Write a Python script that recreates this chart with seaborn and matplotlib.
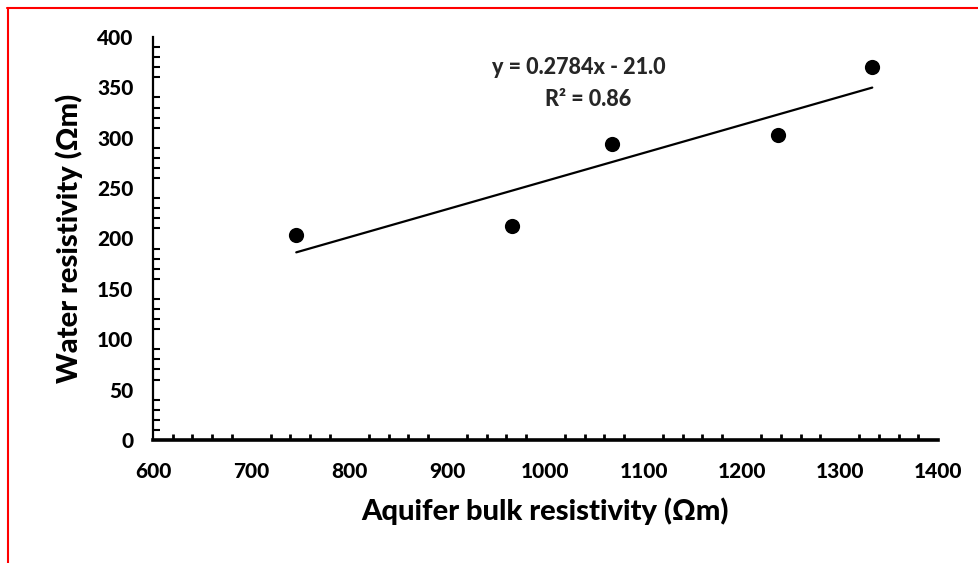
import matplotlib
matplotlib.use("Agg")
import matplotlib.pyplot as plt
from matplotlib.lines import Line2D
from matplotlib.ticker import MultipleLocator
import seaborn as sns
import pandas as pd
import numpy as np

# Data
bulk_resistivity = [746, 966, 1068, 1237, 1333]
water_resistivity = [203.5, 212.4, 293.8, 302.7, 370.2]
equation_text = "y = 0.2784x - 21.0"
r2_text = "R² = 0.86"
x_ticks = [600, 700, 800, 900, 1000, 1100, 1200, 1300, 1400]
y_ticks = [0, 50, 100, 150, 200, 250, 300, 350, 400]

df = pd.DataFrame({"bulk": bulk_resistivity, "water": water_resistivity})

sns.set_style("white")
plt.rcParams['font.family'] = ['Lato', 'DejaVu Sans']
WEIGHT = 900
plt.rcParams['font.weight'] = WEIGHT

W, H = 979, 563
fig = plt.figure(figsize=(W / 100, H / 100), dpi=100)
ax = fig.add_axes([153 / W, 1 - 440 / H, (938 - 153) / W, (440 - 37) / H])

sns.regplot(data=df, x="bulk", y="water", ax=ax, ci=None,
            scatter_kws=dict(s=120, color="black", alpha=1, linewidths=0, zorder=3),
            line_kws=dict(color="black", lw=1.6))

ax.set_xlim(600, 1400)
ax.set_ylim(0, 400)
ax.set_xticks(x_ticks)
ax.set_yticks(y_ticks)
ax.xaxis.set_minor_locator(MultipleLocator(20))
ax.yaxis.set_minor_locator(MultipleLocator(10))

for s in ["top", "right"]:
    ax.spines[s].set_visible(False)
ax.spines["left"].set_linewidth(1.6)
ax.spines["left"].set_color("black")
ax.spines["bottom"].set_linewidth(2.6)
ax.spines["bottom"].set_color("black")

ax.tick_params(axis="x", which="major", direction="inout", length=10, width=2.6,
               color="black", labelsize=15, pad=11, labelcolor="black")
ax.tick_params(axis="x", which="minor", direction="in", length=4, width=2, color="black",
               bottom=True)
ax.tick_params(axis="y", which="major", direction="inout", length=10, width=1.6,
               color="black", labelsize=15, pad=9, labelcolor="black")
ax.tick_params(axis="y", which="minor", direction="in", length=5, width=1.5, color="black",
               left=True)
for lab in ax.get_xticklabels() + ax.get_yticklabels():
    lab.set_fontweight(WEIGHT)

ax.set_xlabel("Aquifer bulk resistivity (Ωm)", fontsize=21, fontweight=WEIGHT, labelpad=12,
              color="black")
ax.set_ylabel("Water resistivity (Ωm)", fontsize=21, fontweight=WEIGHT, labelpad=10,
              color="black")

ax.text(1034, 370, equation_text, ha="center", va="center", fontsize=15.5, fontweight=WEIGHT)
ax.text(1043, 338, r2_text, ha="center", va="center", fontsize=15.5, fontweight=WEIGHT)

# red frame (top and left edges visible in reference)
fig.add_artist(Line2D([7 / W, 1.0], [1 - 8 / H, 1 - 8 / H], transform=fig.transFigure,
                      color="red", lw=1.5))
fig.add_artist(Line2D([8 / W, 8 / W], [0, 1 - 8 / H], transform=fig.transFigure,
                      color="red", lw=1.5))

fig.savefig("out.png", dpi=100)
